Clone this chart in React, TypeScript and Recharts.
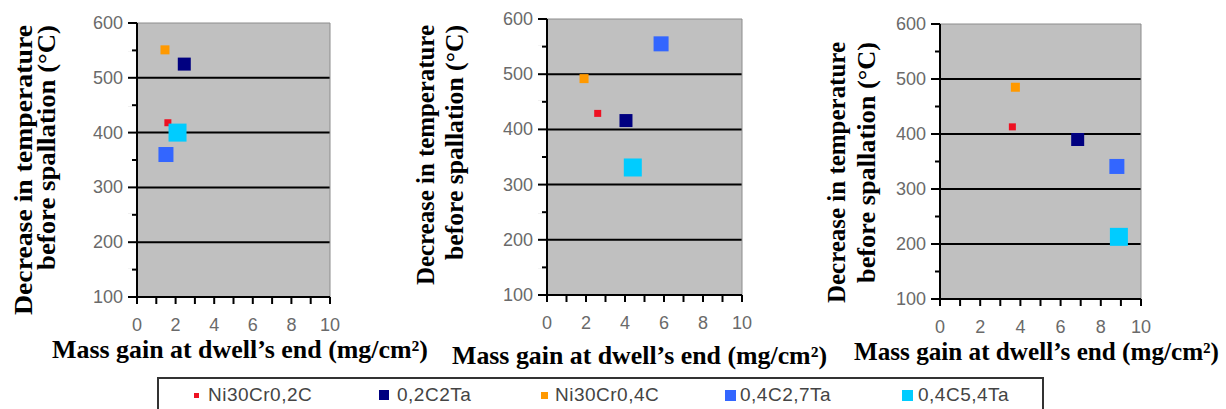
import React from "react";
import { ScatterChart, Scatter, XAxis, YAxis, CartesianGrid, ReferenceLine } from "recharts";

// series, same order everywhere
const seriesNames = ["Ni30Cr0,2C", "0,2C2Ta", "Ni30Cr0,4C", "0,4C2,7Ta", "0,4C5,4Ta"];

// mass gain (mg/cm²) and temperature decrease (°C), one array pair per panel
const panel1Gain = [1.6, 2.45, 1.45, 1.5, 2.1];
const panel1Drop = [418, 525, 551, 360, 400];
const panel2Gain = [2.6, 4.05, 1.9, 5.85, 4.4];
const panel2Drop = [429, 416, 492, 555, 331];
const panel3Gain = [3.6, 6.85, 3.75, 8.8, 8.9];
const panel3Drop = [413, 390, 485, 341, 213];

const xTicks = [0, 1, 2, 3, 4, 5, 6, 7, 8, 9, 10];
const yTicks = [100, 150, 200, 250, 300, 350, 400, 450, 500, 550, 600];
const gridValues = [200, 300, 400, 500];

const xLabel = "Mass gain at dwell\u2019s end (mg/cm\u00b2)";
const yLabel1 = "Decrease in temperature";
const yLabel2 = "before spallation (\u00b0C)";

// styling
const COLORS = ["#ee1122", "#000080", "#ff9900", "#3366ff", "#00ccff"];
const MARKER = [7, 13, 9, 15, 18];
const LEGEND_MARKER = [5, 10, 7, 11, 11];
const SERIF = "'Liberation Serif', 'Times New Roman', serif";
const SANS = "'Liberation Sans', Arial, sans-serif";
const AXIS_W = 40;
const AXIS_H = 40;
const Y_TICK = 9;
const X_TICK = 7;

const panels = [
  {
    gain: panel1Gain, drop: panel1Drop,
    left: 0, width: 440,
    plot: { top: 23, right: 330, bottom: 297, left: 137 },
    xl: { x: 52, y: 358, len: 376 },
    yl: { x1: 32, x2: 55, y: 25, len1: 290, len2: 245 },
  },
  {
    gain: panel2Gain, drop: panel2Drop,
    left: 410, width: 420,
    plot: { top: 19, right: 332, bottom: 295, left: 137 },
    xl: { x: 42, y: 364, len: 375 },
    yl: { x1: 24, x2: 53, y: 25, len1: 260, len2: 235 },
  },
  {
    gain: panel3Gain, drop: panel3Drop,
    left: 816, width: 410,
    plot: { top: 24, right: 325, bottom: 299, left: 124 },
    xl: { x: 38, y: 360, len: 365 },
    yl: { x1: 29, x2: 59, y: 42, len1: 261, len2: 241 },
  },
];

// tick props arrive at the outer end of the built-in tick line
const renderYTick = (t: any) => {
  const v = t.payload.value;
  if (v % 100 !== 0) {
    // minor ticks are shorter: paint over the outer part of the line
    return <line x1={t.x - 1} x2={t.x + 4} y1={t.y} y2={t.y} stroke="#fff" strokeWidth={3} />;
  }
  return (
    <text x={t.x - 5} y={t.y + 6} textAnchor="end" fontSize={18} fill="#6a6a6a" fontFamily={SANS}>
      {v}
    </text>
  );
};

const renderXTick = (t: any) => {
  const v = t.payload.value;
  if (v % 2 !== 0) return <g />;
  return (
    <text x={t.x} y={t.y + 27} textAnchor="middle" fontSize={18} fill="#6a6a6a" fontFamily={SANS}>
      {v}
    </text>
  );
};

function Panel({ p }: { p: (typeof panels)[number] }) {
  const H = 370;
  const margin = {
    top: p.plot.top,
    left: p.plot.left - AXIS_W,
    right: p.width - p.plot.right,
    bottom: H - p.plot.bottom - AXIS_H,
  };
  return (
    <div style={{ position: "absolute", left: p.left, top: 0 }}>
      <ScatterChart width={p.width} height={H} margin={margin}>
        <CartesianGrid
          vertical={false}
          horizontalValues={gridValues}
          stroke="#000"
          strokeWidth={2}
          fill="#c0c0c0"
          fillOpacity={1}
        />
        <ReferenceLine y={600} stroke="#8c8c8c" strokeWidth={1} />
        <ReferenceLine x={10} stroke="#8c8c8c" strokeWidth={1} />
        <ReferenceLine y={100} stroke="#000" strokeWidth={2} />
        <ReferenceLine x={0} stroke="#000" strokeWidth={2} />
        <XAxis
          type="number"
          dataKey="x"
          domain={[0, 10]}
          ticks={xTicks}
          interval={0}
          height={AXIS_H}
          tickSize={X_TICK}
          tickMargin={0}
          stroke="#000"
          tickLine={{ stroke: "#000", strokeWidth: 2 }}
          axisLine={{ stroke: "#000", strokeWidth: 2 }}
          tick={renderXTick}
          label={{
            content: () => (
              <text x={p.xl.x} y={p.xl.y} fontFamily={SERIF} fontWeight="bold" fontSize={25} fill="#000"
                textLength={p.xl.len} lengthAdjust="spacingAndGlyphs">
                {xLabel}
              </text>
            ),
          }}
        />
        <YAxis
          type="number"
          dataKey="y"
          domain={[100, 600]}
          ticks={yTicks}
          interval={0}
          width={AXIS_W}
          tickSize={Y_TICK}
          tickMargin={0}
          stroke="#000"
          tickLine={{ stroke: "#000", strokeWidth: 2 }}
          axisLine={{ stroke: "#000", strokeWidth: 2 }}
          tick={renderYTick}
          label={{
            content: () => (
              <g fontFamily={SERIF} fontWeight="bold" fontSize={25} fill="#000">
                <text x={p.yl.x1} y={p.yl.y} textAnchor="end" transform={`rotate(-90, ${p.yl.x1}, ${p.yl.y})`}
                  textLength={p.yl.len1} lengthAdjust="spacingAndGlyphs">
                  {yLabel1}
                </text>
                <text x={p.yl.x2} y={p.yl.y} textAnchor="end" transform={`rotate(-90, ${p.yl.x2}, ${p.yl.y})`}
                  textLength={p.yl.len2} lengthAdjust="spacingAndGlyphs">
                  {yLabel2}
                </text>
              </g>
            ),
          }}
        />
        {seriesNames.map((name, i) => (
          <Scatter
            key={name}
            name={name}
            data={[{ x: p.gain[i], y: p.drop[i] }]}
            isAnimationActive={false}
            shape={(s: any) => (
              <rect x={s.cx - MARKER[i] / 2} y={s.cy - MARKER[i] / 2} width={MARKER[i]} height={MARKER[i]} fill={COLORS[i]} />
            )}
          />
        ))}
      </ScatterChart>
    </div>
  );
}

const legendMarkX = [196, 384, 544, 730, 907];
const legendTextX = [208, 397, 555, 740, 918];

export default function App() {
  return (
    <div style={{ position: "absolute", left: 0, top: 0, width: 1226, height: 409, background: "#fff", overflow: "hidden" }}>
      {panels.map((p, i) => (
        <Panel key={i} p={p} />
      ))}
      <div
        style={{
          position: "absolute", left: 157, top: 377, width: 887, height: 40,
          border: "2px solid #333", boxSizing: "border-box",
        }}
      />
      {seriesNames.map((name, i) => (
        <React.Fragment key={name}>
          <div
            style={{
              position: "absolute",
              left: legendMarkX[i] - LEGEND_MARKER[i] / 2,
              top: 395 - LEGEND_MARKER[i] / 2,
              width: LEGEND_MARKER[i],
              height: LEGEND_MARKER[i],
              background: COLORS[i],
            }}
          />
          <div
            style={{
              position: "absolute", left: legendTextX[i], top: 384, fontFamily: SANS,
              fontSize: 19, letterSpacing: 0.5, color: "#444", lineHeight: "22px", whiteSpace: "nowrap",
            }}
          >
            {name}
          </div>
        </React.Fragment>
      ))}
    </div>
  );
}
